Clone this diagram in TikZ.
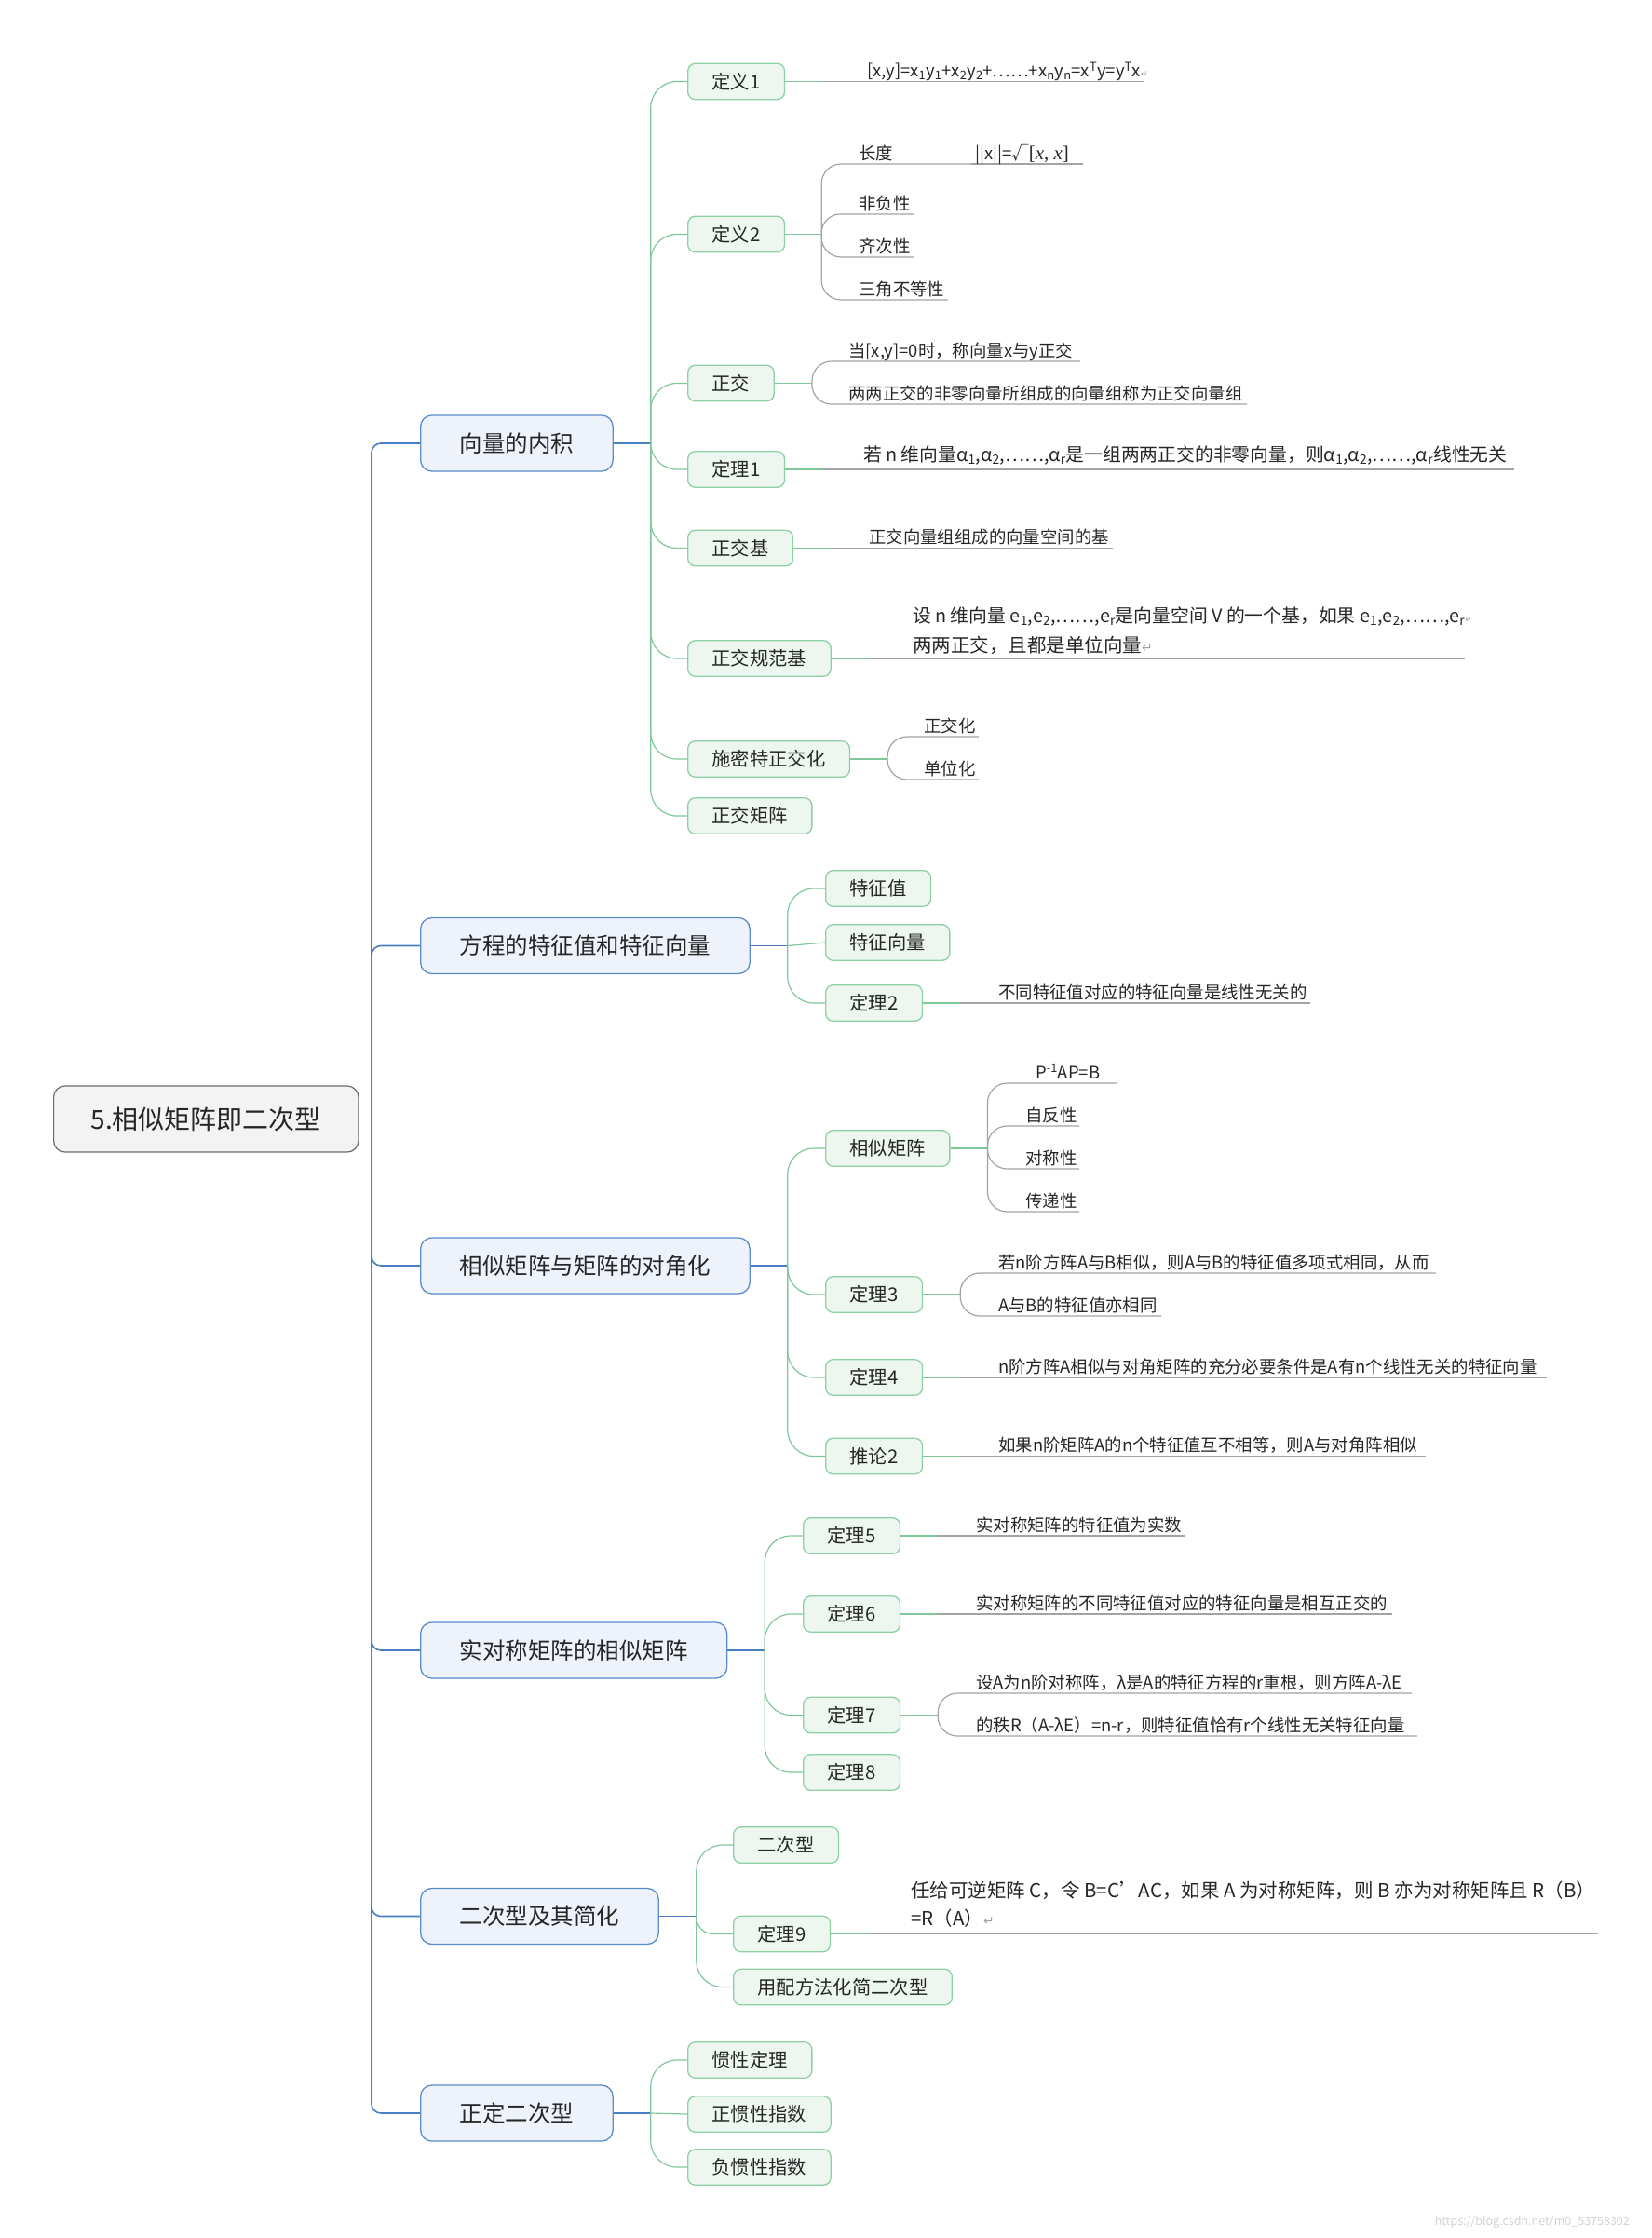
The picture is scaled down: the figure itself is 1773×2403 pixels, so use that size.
\documentclass[tikz,border=0pt]{standalone}
\usepackage{fontspec}
\setmainfont{Noto Sans CJK SC}
\newfontfamily\dejavu{DejaVu Sans}
\newfontfamily\serifit{Liberation Serif}
\definecolor{spineblue}{HTML}{4A7EC2}
\definecolor{blueborder}{HTML}{5B8CCC}
\definecolor{bluefill}{HTML}{EEF3FB}
\definecolor{greenborder}{HTML}{8DD0A4}
\definecolor{greenfill}{HTML}{EEF6F0}
\definecolor{linegreen}{HTML}{7FC79A}
\definecolor{linegray}{HTML}{A3A3A3}
\definecolor{rootborder}{HTML}{6B6B6B}
\definecolor{rootfill}{HTML}{F3F3F3}
\definecolor{txt}{HTML}{262626}
\definecolor{retgray}{HTML}{A0A0A0}
\definecolor{wm}{HTML}{D2D2D2}
\newcommand\retmark[1]{{\dejavu\color{retgray}\fontsize{#1}{#1}\selectfont ↵}}
\newcommand\sub[1]{\textsubscript{#1}}
\newcommand\sups[1]{\textsuperscript{#1}}
\begin{document}
\begin{tikzpicture}[x=1pt,y=-1pt,
  rootbox/.style={draw=rootborder, fill=rootfill, rounded corners=12pt, line width=1.2pt,
    inner xsep=40pt, minimum height=71pt, anchor=west, text=txt,
    font=\fontsize{28}{32}\selectfont},
  lone/.style={draw=blueborder, fill=bluefill, rounded corners=12pt, line width=1.3pt,
    inner xsep=42pt, minimum height=60pt, anchor=west, text=txt,
    font=\fontsize{24.5}{28}\selectfont},
  ltwo/.style={draw=greenborder, fill=greenfill, rounded corners=8pt, line width=1.3pt,
    inner xsep=26pt, minimum height=38.5pt, anchor=west, text=txt,
    font=\fontsize{20.3}{24}\selectfont},
  leaf/.style={anchor=base west, inner sep=0pt, text=txt, font=\fontsize{18.4}{22}\selectfont},
  bigleaf/.style={leaf, font=\fontsize{20.5}{24}\selectfont},
  midleaf/.style={leaf, font=\fontsize{19.8}{24}\selectfont},
  bl/.style={draw=spineblue, line width=1.6pt},
  gr/.style={draw=linegreen, line width=1.2pt},
  gy/.style={draw=linegray, line width=1.2pt},
  rcg/.style={rounded corners=28pt},
  rcl/.style={rounded corners=21pt}
]
\useasboundingbox (0,0) rectangle (1773,2403);

% ---------- root and level 1 ----------
\node[rootbox] (root) at (57,1201.5) {5.相似矩阵即二次型};
\node[lone] (a) at (451,476) {向量的内积};
\node[lone] (b) at (451,1015.5) {方程的特征值和特征向量};
\node[lone] (c) at (451,1359) {相似矩阵与矩阵的对角化};
\node[lone] (d) at (451,1772) {实对称矩阵的相似矩阵};
\node[lone] (e) at (451,2057.5) {二次型及其简化};
\node[lone] (f) at (451,2269) {正定二次型};

\coordinate (sp) at (399,1201.5);
\draw[bl] (root.east) -- (sp);
\foreach \n in {a,b,c,d,e,f} \draw[bl,rounded corners=10pt] (sp) |- (\n.west);

% ---------- level 2 ----------
\node[ltwo] (a1) at (738,87.5) {定义1};
\node[ltwo] (a2) at (738,251.5) {定义2};
\node[ltwo] (a3) at (738,411.5) {正交};
\node[ltwo] (a4) at (738,504) {定理1};
\node[ltwo] (a5) at (738,588.5) {正交基};
\node[ltwo] (a6) at (738,707) {正交规范基};
\node[ltwo] (a7) at (738,815) {施密特正交化};
\node[ltwo] (a8) at (738,876) {正交矩阵};
\node[ltwo] (b1) at (886,954) {特征值};
\node[ltwo] (b2) at (886,1012) {特征向量};
\node[ltwo] (b3) at (886,1077) {定理2};
\node[ltwo] (c1) at (886,1233) {相似矩阵};
\node[ltwo] (c2) at (886,1390) {定理3};
\node[ltwo] (c3) at (886,1479) {定理4};
\node[ltwo] (c4) at (886,1563.5) {推论2};
\node[ltwo] (d1) at (862,1649) {定理5};
\node[ltwo] (d2) at (862,1733) {定理6};
\node[ltwo] (d3) at (862,1841.5) {定理7};
\node[ltwo] (d4) at (862,1903) {定理8};
\node[ltwo] (e1) at (787,1981) {二次型};
\node[ltwo] (e2) at (787,2076.5) {定理9};
\node[ltwo] (e3) at (787,2133.5) {用配方法化简二次型};
\node[ltwo] (f1) at (738,2212) {惯性定理};
\node[ltwo] (f2) at (738,2270) {正惯性指数};
\node[ltwo] (f3) at (738,2327) {负惯性指数};

% level1 -> level2 connectors
\draw[bl] (a.east) -- ++(40,0) coordinate (as);
\foreach \k in {a1,a2,a3,a4,a5,a6,a7,a8} \draw[gr,rcg] (as) |- (\k.west);
\draw[bl] (b.east) -- ++(40,0) coordinate (bs);
\draw[gr,rcg] (bs) |- (b1.west);
\draw[gr] (bs) -- (b2.west);
\draw[gr,rcg] (bs) |- (b3.west);
\draw[bl] (c.east) -- ++(40,0) coordinate (cs);
\foreach \k in {c1,c2,c3,c4} \draw[gr,rcg] (cs) |- (\k.west);
\draw[bl] (d.east) -- ++(40,0) coordinate (ds);
\foreach \k in {d1,d2,d3,d4} \draw[gr,rcg] (ds) |- (\k.west);
\draw[bl] (e.east) -- ++(40,0) coordinate (es);
\draw[gr,rcg] (es) |- (e1.west);
\draw[gr,rounded corners=18pt] (es) |- (e2.west);
\draw[gr,rcg] (es) |- (e3.west);
\draw[bl] (f.east) -- ++(40,0) coordinate (fs);
\draw[gr,rcg] (fs) |- (f1.west);
\draw[gr] (fs) -- (f2.west);
\draw[gr,rcg] (fs) |- (f3.west);

% ---------- leaves ----------
% 定义1
\coordinate (a1z) at (1228,87.5);
\draw[gr] (a1.east) -- ++(40,0) coordinate (a1s);
\draw[gy] (a1s) -- (a1z);
\node[leaf] (ta1) at (931,82.5) {[x,y]=x\sub{1}y\sub{1}+x\sub{2}y\sub{2}+……+x\sub{n}y\sub{n}=x\sups{T}y=y\sups{T}x\retmark{9}};

% 定义2
\draw[gr] (a2.east) -- ++(39,0) coordinate (a2s);
\coordinate (a2z1) at (1043,176);
\coordinate (a2zx) at (1163,176);
\coordinate (a2z2) at (981,230);
\coordinate (a2z3) at (981,276);
\coordinate (a2z4) at (1018,322);
\draw[gy,rcl] (a2s) |- (a2z1);
\draw[gy] (a2z1) -- (a2zx);
\draw[gy,rounded corners=20pt] (a2s) |- (a2z2);
\draw[gy,rcl] (a2s) |- (a2z3);
\draw[gy,rcl] (a2s) |- (a2z4);
\node[leaf] (ta2a) at (922,171) {长度};
\node[leaf] (ta2x) at (1047,171) {||x||=√{\serifit\fontsize{21}{24}\selectfont [\textit{x}, \textit{x}]}};
\node[leaf] (ta2b) at (922,225) {非负性};
\node[leaf] (ta2c) at (922,271) {齐次性};
\node[leaf] (ta2d) at (922,317) {三角不等性};

% 正交
\draw[gr] (a3.east) -- ++(40,0) coordinate (a3s);
\coordinate (a3z1) at (1160,388);
\coordinate (a3z2) at (1339,434);
\draw[gy,rcl] (a3s) |- (a3z1);
\draw[gy,rcl] (a3s) |- (a3z2);
\node[leaf] (ta3a) at (911,383) {当[x,y]=0时，称向量x与y正交};
\node[leaf] (ta3b) at (911,429) {两两正交的非零向量所组成的向量组称为正交向量组};

% 定理1
\coordinate (a4z) at (1626,504);
\draw[gr] (a4.east) -- ++(40,0) coordinate (a4s);
\draw[gy] (a4s) -- (a4z);
\node[midleaf] (ta4) at (927,495) {若 n 维向量α\sub{1},α\sub{2},……,α\sub{r}是一组两两正交的非零向量，则α\sub{1},α\sub{2},……,α\sub{r}线性无关};

% 正交基
\coordinate (a5z) at (1195,588.5);
\draw[gr] (a5.east) -- ++(40,0) coordinate (a5s);
\draw[gy] (a5s) -- (a5z);
\node[leaf] (ta5) at (933,583.5) {正交向量组组成的向量空间的基};

% 正交规范基
\coordinate (a6z) at (1573,707);
\draw[gr] (a6.east) -- ++(40,0) coordinate (a6s);
\draw[gy] (a6s) -- (a6z);
\node[midleaf] (ta6a) at (980,668.5) {设 n 维向量 e\sub{1},e\sub{2},……,e\sub{r}是向量空间 V 的一个基，如果 e\sub{1},e\sub{2},……,e\sub{r}\retmark{9}};
\node[bigleaf] (ta6b) at (980,700) {两两正交，且都是单位向量\retmark{14}};

% 施密特正交化
\draw[gr] (a7.east) -- ++(40,0) coordinate (a7s);
\coordinate (a7z1) at (1051,791);
\coordinate (a7z2) at (1051,837);
\draw[gy,rcl] (a7s) |- (a7z1);
\draw[gy,rcl] (a7s) |- (a7z2);
\node[leaf] (ta7a) at (992,786) {正交化};
\node[leaf] (ta7b) at (992,832) {单位化};

% 定理2
\coordinate (b3z) at (1407,1077);
\draw[gr] (b3.east) -- ++(40,0) coordinate (b3s);
\draw[gy] (b3s) -- (b3z);
\node[leaf] (tb3) at (1072,1072) {不同特征值对应的特征向量是线性无关的};

% 相似矩阵
\draw[gr] (c1.east) -- ++(40,0) coordinate (c1s);
\coordinate (c1z1) at (1200,1163);
\coordinate (c1z2) at (1159,1209);
\coordinate (c1z3) at (1159,1255);
\coordinate (c1z4) at (1159,1301);
\foreach \z in {c1z1,c1z2,c1z3,c1z4} \draw[gy,rcl] (c1s) |- (\z);
\node[leaf] (tc1a) at (1112,1158) {P\sups{-1}AP=B};
\node[leaf] (tc1b) at (1101,1204) {自反性};
\node[leaf] (tc1c) at (1101,1250) {对称性};
\node[leaf] (tc1d) at (1101,1296) {传递性};

% 定理3
\draw[gr] (c2.east) -- ++(40,0) coordinate (c2s);
\coordinate (c2z1) at (1542,1367);
\coordinate (c2z2) at (1247,1413);
\draw[gy,rcl] (c2s) |- (c2z1);
\draw[gy,rcl] (c2s) |- (c2z2);
\node[leaf] (tc2a) at (1072,1362) {若n阶方阵A与B相似，则A与B的特征值多项式相同，从而};
\node[leaf] (tc2b) at (1072,1408) {A与B的特征值亦相同};

% 定理4
\coordinate (c3z) at (1661,1479);
\draw[gr] (c3.east) -- ++(40,0) coordinate (c3s);
\draw[gy] (c3s) -- (c3z);
\node[leaf] (tc3) at (1072,1474) {n阶方阵A相似与对角矩阵的充分必要条件是A有n个线性无关的特征向量};

% 推论2
\coordinate (c4z) at (1531,1563.5);
\draw[gr] (c4.east) -- ++(40,0) coordinate (c4s);
\draw[gy] (c4s) -- (c4z);
\node[leaf] (tc4) at (1072,1558.5) {如果n阶矩阵A的n个特征值互不相等，则A与对角阵相似};

% 定理5
\coordinate (d1z) at (1272,1649);
\draw[gr] (d1.east) -- ++(40,0) coordinate (d1s);
\draw[gy] (d1s) -- (d1z);
\node[leaf] (td1) at (1048,1644) {实对称矩阵的特征值为实数};

% 定理6
\coordinate (d2z) at (1495,1733);
\draw[gr] (d2.east) -- ++(40,0) coordinate (d2s);
\draw[gy] (d2s) -- (d2z);
\node[leaf] (td2) at (1048,1728) {实对称矩阵的不同特征值对应的特征向量是相互正交的};

% 定理7
\draw[gr] (d3.east) -- ++(40,0) coordinate (d3s);
\coordinate (d3z1) at (1516,1818);
\coordinate (d3z2) at (1522,1864);
\draw[gy,rcl] (d3s) |- (d3z1);
\draw[gy,rcl] (d3s) |- (d3z2);
\node[leaf] (td3a) at (1048,1813) {设A为n阶对称阵，λ是A的特征方程的r重根，则方阵A-λE};
\node[leaf] (td3b) at (1048,1859) {的秩R（A-λE）=n-r，则特征值恰有r个线性无关特征向量};

% 定理9
\coordinate (e2z) at (1716,2076.5);
\draw[gr] (e2.east) -- ++(40,0) coordinate (e2s);
\draw[gy] (e2s) -- (e2z);
\node[bigleaf] (te2a) at (978,2037) {任给可逆矩阵 C，令 B=C'AC，如果 A 为对称矩阵，则 B 亦为对称矩阵且 R（B）};
\node[bigleaf] (te2b) at (978,2067) {=R（A）\retmark{14}};

% watermark
\node[anchor=east, inner sep=0pt, text=wm, font=\fontsize{12.5}{15}\selectfont] (wmk) at (1750,2386) {https://blog.csdn.net/m0\_53758302};
\end{tikzpicture}
\end{document}
